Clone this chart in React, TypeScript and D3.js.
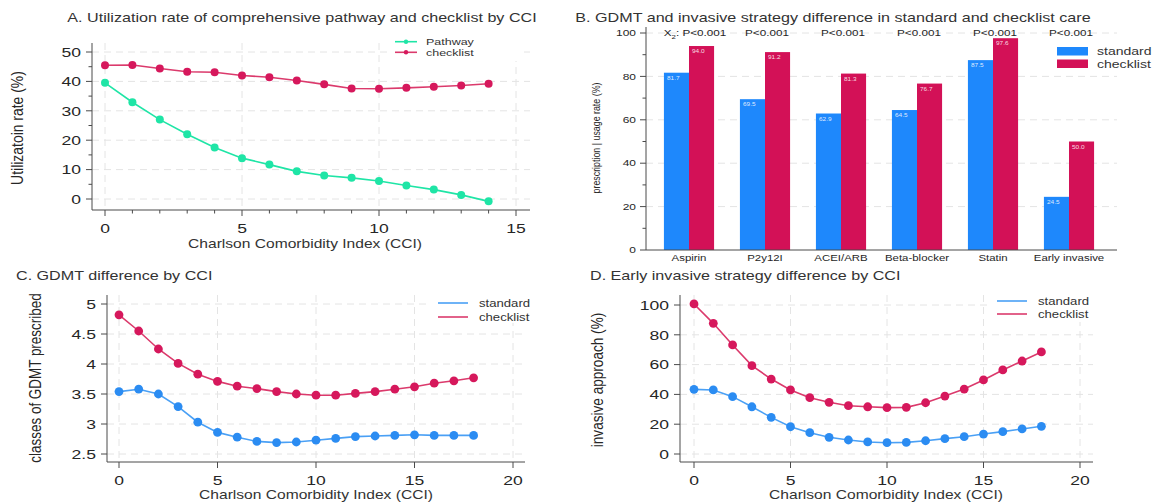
import * as d3 from 'd3';

// panel A
const cciA = [0, 1, 2, 3, 4, 5, 6, 7, 8, 9, 10, 11, 12, 13, 14];
const pathwayA = [39.5, 32.9, 27.0, 22.0, 17.5, 13.9, 11.7, 9.4, 8.0, 7.2, 6.1, 4.6, 3.2, 1.4, -0.8];
const checklistA = [45.5, 45.6, 44.4, 43.3, 43.1, 42.0, 41.4, 40.3, 39.0, 37.6, 37.5, 37.8, 38.2, 38.6, 39.2];

// panel B
const drugs = ['Aspirin', 'P2y12I', 'ACEI/ARB', 'Beta-blocker', 'Statin', 'Early invasive'];
const standardB = [81.7, 69.5, 62.9, 64.5, 87.5, 24.5];
const checklistB = [94.0, 91.2, 81.3, 76.7, 97.6, 50.0];
const pvalB = ['P<0.001', 'P<0.001', 'P<0.001', 'P<0.001', 'P<0.001', 'P<0.001'];

// panels C and D
const cciCD = [0, 1, 2, 3, 4, 5, 6, 7, 8, 9, 10, 11, 12, 13, 14, 15, 16, 17, 18];
const standardC = [3.54, 3.58, 3.50, 3.29, 3.03, 2.86, 2.78, 2.71, 2.69, 2.70, 2.73, 2.76, 2.79, 2.80, 2.81, 2.82, 2.81, 2.81, 2.81];
const checklistC = [4.82, 4.55, 4.25, 4.01, 3.83, 3.71, 3.63, 3.59, 3.54, 3.50, 3.48, 3.48, 3.51, 3.54, 3.58, 3.62, 3.68, 3.72, 3.77];
const standardD = [43.4, 43.0, 38.5, 31.7, 24.6, 18.3, 14.3, 11.2, 9.4, 8.1, 7.6, 7.8, 8.9, 10.3, 11.6, 13.4, 15.0, 16.8, 18.6];
const checklistD = [100.7, 87.7, 73.2, 59.3, 50.3, 43.0, 37.8, 34.7, 32.4, 31.7, 31.1, 31.3, 34.4, 38.9, 43.6, 49.7, 56.4, 62.4, 68.5];

// ticks
const ticksAx = [0, 5, 10, 15];
const ticksAy = [0, 10, 20, 30, 40, 50];
const ticksBy = [0, 20, 40, 60, 80, 100];
const ticksCx = [0, 5, 10, 15, 20];
const ticksCy = [2.5, 3, 3.5, 4, 4.5, 5];
const ticksDy = [0, 20, 40, 60, 80, 100];

const FONT = "'Liberation Sans', Arial, Helvetica, sans-serif";
const SX = 1.3; // the source image is stretched sideways
const GREEN = '#1fe5a6';
const PINK = '#d6185c';
const PINK_LINE = '#db3a6c';
const BLUE = '#2b8cf2';
const BLUE_LINE = '#4aa0f5';
const BAR_BLUE = '#1e88fc';
const BAR_RED = '#d31157';
const AXIS = '#4a4a4a';
const GRID = '#e4e4e4';
const TXT = '#262626';

function Txt({ x, y, size, anchor = 'start', fill = TXT, children }: any) {
  return (
    <text transform={`translate(${x},${y}) scale(${SX},1)`} fontSize={size} textAnchor={anchor}
      fill={fill} dy="0.35em" fontFamily={FONT}>{children}</text>
  );
}

// rotated axis title, squeezed along its length like a narrow face
function VTxt({ x, y, size, children }: any) {
  return (
    <text transform={`translate(${x},${y}) rotate(-90) scale(0.82,1)`} fontSize={size} textAnchor="middle"
      fill={TXT} dy="0.35em" fontFamily={FONT}>{children}</text>
  );
}

function LinePanel(p: any) {
  const { x, y, f } = p;
  const line = d3.line<[number, number]>().x(d => x(d[0])).y(d => y(d[1]));
  return (
    <g>
      {/* grid */}
      {p.xTicks.map((t: number) => (
        <line key={'gx' + t} x1={x(t)} x2={x(t)} y1={f.top} y2={f.bottom} stroke={GRID} strokeDasharray="7,5" />
      ))}
      {p.yTicks.map((t: number) => (
        <line key={'gy' + t} x1={f.left} x2={f.right} y1={y(t)} y2={y(t)} stroke={GRID} strokeDasharray="7,5" />
      ))}
      <rect x={p.legend.box[0]} y={p.legend.box[1]} width={p.legend.box[2] - p.legend.box[0]}
        height={p.legend.box[3] - p.legend.box[1]} fill="#fff" />
      {/* series */}
      {p.series.map((s: any) => (
        <g key={s.name}>
          <path d={line(s.xs.map((v: number, i: number) => [v, s.ys[i]]))!} fill="none" stroke={s.line} strokeWidth={1.6} />
          {s.xs.map((v: number, i: number) => (
            <circle key={i} cx={x(v)} cy={y(s.ys[i])} r={s.r} fill={s.color} />
          ))}
        </g>
      ))}
      {/* axes */}
      <line x1={f.left} x2={f.left} y1={f.top} y2={f.bottom} stroke={AXIS} />
      <line x1={f.left} x2={f.right} y1={f.bottom} y2={f.bottom} stroke={AXIS} />
      {p.yTicks.map((t: number) => (
        <g key={'ty' + t}>
          <line x1={f.left - 6} x2={f.left} y1={y(t)} y2={y(t)} stroke={AXIS} />
          <Txt x={f.left - 11} y={y(t)} size={p.tickSize} anchor="end">{String(t)}</Txt>
        </g>
      ))}
      {(p.yMinor || []).map((t: number) => (
        <line key={'my' + t} x1={f.left - 3.5} x2={f.left} y1={y(t)} y2={y(t)} stroke={AXIS} />
      ))}
      {p.xTicks.map((t: number) => (
        <g key={'tx' + t}>
          <line x1={x(t)} x2={x(t)} y1={f.bottom} y2={f.bottom + 6} stroke={AXIS} />
          <Txt x={x(t)} y={f.bottom + 18} size={p.tickSize} anchor="middle">{String(t)}</Txt>
        </g>
      ))}
      {(p.xMinor || []).map((t: number) => (
        <line key={'mx' + t} x1={x(t)} x2={x(t)} y1={f.bottom} y2={f.bottom + 3.5} stroke={AXIS} />
      ))}
      {/* titles */}
      <Txt x={p.title[0]} y={p.title[1]} size={12.4} anchor={p.title[2]} fill="#333">{p.title[3]}</Txt>
      <Txt x={p.xTitle[0]} y={p.xTitle[1]} size={12} anchor="middle" fill="#333">Charlson Comorbidity Index (CCI)</Txt>
      <VTxt x={p.yTitle[0]} y={p.yTitle[1]} size={p.yTitle[2]}>{p.yTitle[3]}</VTxt>
      {/* legend */}
      {p.series.map((s: any, i: number) => (
        <g key={'lg' + s.name}>
          <line x1={p.legend.lineX[0]} x2={p.legend.lineX[1]} y1={p.legend.rows[i]} y2={p.legend.rows[i]}
            stroke={s.line} strokeWidth={1.6} />
          {p.legend.dot && (
            <circle cx={(p.legend.lineX[0] + p.legend.lineX[1]) / 2} cy={p.legend.rows[i]} r={2.2} fill={s.color} />
          )}
          <Txt x={p.legend.textX} y={p.legend.rows[i]} size={p.legend.size} fill="#333">{s.name}</Txt>
        </g>
      ))}
    </g>
  );
}

function BarPanel() {
  const f = { left: 646, right: 1117, top: 27, bottom: 250 };
  const x = d3.scaleBand().domain(drugs).range([651, 1107]).paddingInner(0.34).paddingOuter(0.17);
  const sub = d3.scaleBand().domain(['standard', 'checklist']).range([0, x.bandwidth()]);
  const y = d3.scaleLinear().domain([0, 100]).range([f.bottom, 33]);
  const minor = [10, 30, 50, 70, 90];
  const groups = [
    { key: 'standard', vals: standardB, color: BAR_BLUE },
    { key: 'checklist', vals: checklistB, color: BAR_RED },
  ];
  return (
    <g>
      {ticksBy.filter(t => t > 0).map(t => (
        <line key={'g' + t} x1={f.left} x2={f.right} y1={y(t)} y2={y(t)} stroke={GRID} strokeDasharray="7,5" />
      ))}
      {groups.map(g => drugs.map((d, i) => {
        const bx = x(d)! + sub(g.key)!;
        const top = y(g.vals[i]);
        return (
          <g key={g.key + d}>
            <rect x={bx} y={top} width={sub.bandwidth()} height={f.bottom - top} fill={g.color} />
            <Txt x={bx + 3} y={top + 5.5} size={5} fill="rgba(255,255,255,0.85)">{g.vals[i].toFixed(1)}</Txt>
          </g>
        );
      }))}
      <line x1={f.left} x2={f.left} y1={f.top} y2={f.bottom} stroke={AXIS} />
      <line x1={f.left} x2={f.right} y1={f.bottom} y2={f.bottom} stroke={AXIS} />
      {ticksBy.map(t => (
        <g key={'t' + t}>
          <line x1={f.left - 6} x2={f.left} y1={y(t)} y2={y(t)} stroke={AXIS} />
          <Txt x={f.left - 10} y={y(t)} size={9.2} anchor="end">{String(t)}</Txt>
        </g>
      ))}
      {minor.map(t => (
        <line key={'m' + t} x1={f.left - 3.5} x2={f.left} y1={y(t)} y2={y(t)} stroke={AXIS} />
      ))}
      {drugs.map((d, i) => (
        <g key={'c' + d}>
          <Txt x={x(d)! + x.bandwidth() / 2} y={f.bottom + 8} size={8.8} anchor="middle">{d}</Txt>
          <Txt x={x(d)! + x.bandwidth() / 2 + (i === 0 ? 6 : 2)} y={33} size={9} anchor="middle">
            {i === 0 ? <>X<tspan fontSize={6} dy="2.5">2</tspan><tspan dy="-2.5">:  </tspan></> : null}{pvalB[i]}
          </Txt>
        </g>
      ))}
      <Txt x={833} y={18} size={12.4} anchor="middle" fill="#333">
        B. GDMT and invasive strategy difference in standard and checklist care
      </Txt>
      <VTxt x={596} y={138} size={10.8}>prescription | usage rate (%)</VTxt>
      {groups.map((g, i) => (
        <g key={'l' + g.key}>
          <rect x={1057} y={47 + i * 12.5} width={31} height={8.5} fill={g.color} />
          <Txt x={1097} y={51.3 + i * 12.5} size={10.8} fill="#333">{g.key}</Txt>
        </g>
      ))}
    </g>
  );
}

export default function App() {
  const xA = d3.scaleLinear().domain([0, 15]).range([105, 516]);
  const yA = d3.scaleLinear().domain([0, 50]).range([199, 52]);
  const xC = d3.scaleLinear().domain([0, 20]).range([119, 513]);
  const yC = d3.scaleLinear().domain([2.5, 5]).range([454, 304]);
  const xD = d3.scaleLinear().domain([0, 20]).range([694, 1080]);
  const yD = d3.scaleLinear().domain([0, 100]).range([454, 305]);
  const minorA = d3.range(0, 16).filter(v => v % 5 !== 0);
  const minorAy = [5, 15, 25, 35, 45];

  return (
    <svg width={1158} height={503} style={{ position: 'absolute', left: 0, top: 0, background: '#fff' }}>
      <LinePanel
        x={xA} y={yA} f={{ left: 92, right: 530, top: 43, bottom: 210 }}
        xTicks={ticksAx} yTicks={ticksAy} xMinor={minorA} yMinor={minorAy} tickSize={13.5}
        title={[302, 18, 'middle', 'A. Utilization rate of comprehensive pathway and checklist by CCI']}
        xTitle={[305, 244]} yTitle={[17, 128, 17, 'Utilizatoin rate (%)']}
        series={[
          { name: 'Pathway', xs: cciA, ys: pathwayA, color: GREEN, line: GREEN, r: 4 },
          { name: 'checklist', xs: cciA, ys: checklistA, color: PINK, line: PINK_LINE, r: 4 },
        ]}
        legend={{ box: [388, 33, 522, 61], lineX: [395, 417], textX: 426, rows: [41.7, 52.3], dot: true, size: 9.6 }}
      />
      <BarPanel />
      <LinePanel
        x={xC} y={yC} f={{ left: 107, right: 525, top: 295, bottom: 462 }}
        xTicks={ticksCx} yTicks={ticksCy} tickSize={13.5}
        title={[16, 276, 'start', 'C. GDMT difference by CCI']}
        xTitle={[316, 495]} yTitle={[35, 378, 16.4, 'classes of GDMT prescribed']}
        series={[
          { name: 'standard', xs: cciCD, ys: standardC, color: BLUE, line: BLUE_LINE, r: 4.4 },
          { name: 'checklist', xs: cciCD, ys: checklistC, color: PINK, line: PINK_LINE, r: 4.4 },
        ]}
        legend={{ box: [430, 290, 540, 323], lineX: [438, 468], textX: 479, rows: [303, 317], dot: false, size: 10.1 }}
      />
      <LinePanel
        x={xD} y={yD} f={{ left: 680, right: 1093, top: 295, bottom: 462 }}
        xTicks={ticksCx} yTicks={ticksDy} tickSize={13.5}
        title={[590, 276, 'start', 'D. Early invasive strategy difference by CCI']}
        xTitle={[886, 495]} yTitle={[597, 380, 16.6, 'invasive approach (%)']}
        series={[
          { name: 'standard', xs: cciCD, ys: standardD, color: BLUE, line: BLUE_LINE, r: 4.4 },
          { name: 'checklist', xs: cciCD, ys: checklistD, color: PINK, line: PINK_LINE, r: 4.4 },
        ]}
        legend={{ box: [990, 289, 1100, 322], lineX: [997, 1027], textX: 1038, rows: [301, 314], dot: false, size: 10.1 }}
      />
    </svg>
  );
}
